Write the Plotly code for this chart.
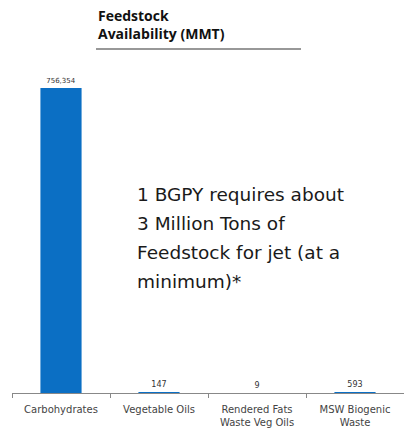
import plotly.graph_objects as go

# Feedstock availability by category (million metric tons)
categories = ["Carbohydrates", "Vegetable Oils", "Rendered Fats<br>Waste Veg Oils", "MSW Biogenic<br>Waste"]
availability = [756354, 147, 9, 593]
value_labels = ["756,354", "147", "9", "593"]
label_sizes = [7, 8, 8, 8]

note_lines = [
    "1 BGPY requires about",
    "3 Million Tons of",
    "Feedstock for jet (at a",
    "minimum)*",
]

W, H = 404, 438
ML, MR, MT, MB = 12, 0, 60, 45
PW, PH = W - ML - MR, H - MT - MB


def px(x):
    return (x - ML) / PW


def py(y):
    return 1 - (y - MT) / PH


fig = go.Figure(
    go.Bar(
        x=categories,
        y=availability,
        width=0.42,
        marker=dict(color="#0b6fc4", line=dict(width=0)),
        text=value_labels,
        textposition="outside",
        textfont=dict(family="DejaVu Sans", size=label_sizes, color="#333333"),
        cliponaxis=False,
    )
)

annotations = [
    dict(
        x=px(96), y=py(4), xref="paper", yref="paper",
        xanchor="left", yanchor="top", showarrow=False, align="left",
        text="<b>Feedstock<br>Availability (MMT)</b>",
        font=dict(family="Open Sans", size=14, color="#111111"),
    )
]
for i, line in enumerate(note_lines):
    annotations.append(
        dict(
            x=px(135), y=py(194 + 29 * i), xref="paper", yref="paper",
            xanchor="left", yanchor="middle", showarrow=False, align="left",
            text=line,
            font=dict(family="DejaVu Sans", size=18.5, color="#1a1a1a"),
        )
    )

fig.update_layout(
    width=W, height=H,
    margin=dict(l=ML, r=MR, t=MT, b=MB),
    paper_bgcolor="white", plot_bgcolor="white",
    showlegend=False,
    annotations=annotations,
    shapes=[
        dict(
            type="line", xref="paper", yref="paper",
            x0=px(96), x1=px(301), y0=py(49), y1=py(49),
            line=dict(color="#333333", width=1.2),
        )
    ],
    xaxis=dict(
        showline=True, linecolor="#888888", linewidth=1,
        ticks="outside", tickson="boundaries", ticklen=4, tickcolor="#888888",
        ticklabelstandoff=7,
        tickfont=dict(family="DejaVu Sans", size=10, color="#444444"),
        showgrid=False, fixedrange=True,
    ),
    yaxis=dict(
        range=[0, 756354 * PH / 305], visible=False, showgrid=False, fixedrange=True,
    ),
)

fig.write_html("out.html")
